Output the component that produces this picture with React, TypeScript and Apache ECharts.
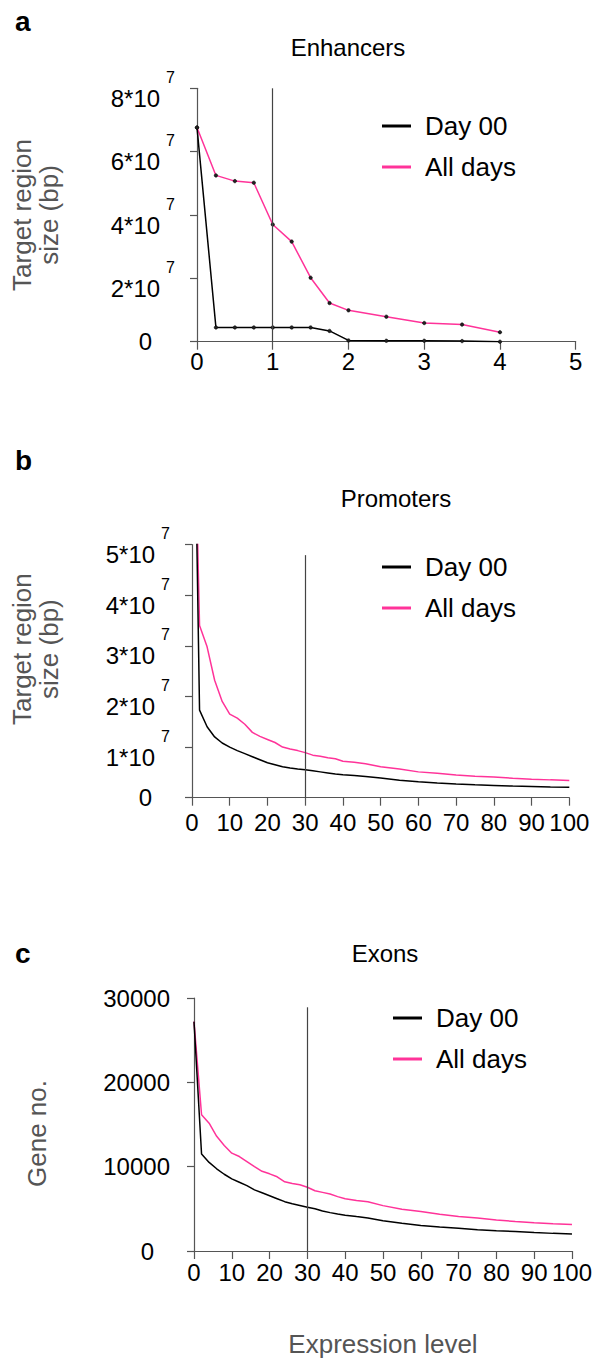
import React, { useEffect, useRef } from 'react';
import * as echarts from 'echarts';

const FONT = '"Liberation Sans", Arial, Helvetica, sans-serif';
const PINK = '#ff3399';
const BLACK = '#000000';
const AXIS = '#555555';
const NAME = '#555555';

// Panel a: Enhancers
const enhX = [0, 0.25, 0.5, 0.75, 1, 1.25, 1.5, 1.75, 2, 2.5, 3, 3.5, 4];
const enhDay00 = [6.76e7, 0.45e7, 0.45e7, 0.45e7, 0.45e7, 0.45e7, 0.45e7, 0.34e7, 0.04e7, 0.03e7, 0.03e7, 0.02e7, 0];
const enhAllDays = [6.76e7, 5.25e7, 5.07e7, 5.02e7, 3.7e7, 3.16e7, 2.02e7, 1.22e7, 0.99e7, 0.79e7, 0.59e7, 0.54e7, 0.3e7];

// Panel b: Promoters (values in bp)
const promX = [0, 1, 2, 4, 6, 8, 10, 12, 14, 16, 18, 20, 22, 24, 26, 28, 30, 32, 34, 36, 38, 40, 43, 46, 50, 55, 60, 65, 70, 75, 80, 85, 90, 95, 100];
const promDay00 = [6.8e7, 6.4e7, 1.73e7, 1.4e7, 1.2e7, 1.08e7, 1.0e7, 0.93e7, 0.87e7, 0.81e7, 0.75e7, 0.69e7, 0.65e7, 0.61e7, 0.585e7, 0.565e7, 0.55e7, 0.53e7, 0.51e7, 0.49e7, 0.47e7, 0.455e7, 0.44e7, 0.42e7, 0.39e7, 0.345e7, 0.315e7, 0.29e7, 0.27e7, 0.255e7, 0.243e7, 0.23e7, 0.222e7, 0.212e7, 0.205e7];
const promAllDays = [6.8e7, 6.7e7, 3.4e7, 2.98e7, 2.32e7, 1.9e7, 1.65e7, 1.57e7, 1.45e7, 1.29e7, 1.21e7, 1.15e7, 1.09e7, 1.0e7, 0.96e7, 0.93e7, 0.89e7, 0.84e7, 0.82e7, 0.79e7, 0.77e7, 0.72e7, 0.7e7, 0.67e7, 0.61e7, 0.565e7, 0.51e7, 0.485e7, 0.45e7, 0.425e7, 0.408e7, 0.385e7, 0.365e7, 0.352e7, 0.342e7];

// Panel c: Exons (gene numbers)
const exonX = [0, 2, 4, 6, 8, 10, 12, 14, 16, 18, 20, 22, 24, 26, 28, 30, 32, 34, 36, 38, 40, 43, 46, 50, 55, 60, 65, 70, 75, 80, 85, 90, 95, 100];
const exonDay00 = [27200, 11500, 10500, 9750, 9100, 8550, 8150, 7750, 7250, 6900, 6550, 6200, 5850, 5600, 5400, 5200, 5000, 4750, 4550, 4380, 4250, 4080, 3920, 3600, 3300, 3030, 2850, 2690, 2530, 2410, 2300, 2180, 2090, 2020];
const exonAllDays = [27200, 16150, 15150, 13600, 12500, 11600, 11200, 10600, 10000, 9450, 9150, 8800, 8200, 8000, 7850, 7560, 7150, 6950, 6750, 6450, 6200, 6000, 5850, 5380, 4950, 4680, 4350, 4080, 3900, 3680, 3500, 3360, 3230, 3130];

// Thresholds (vertical lines)
const enhThreshold = 1;
const promThreshold = 30;
const exonThreshold = 30;

const seriesNames = ['Day 00', 'All days'];

const pairs = (xs: number[], ys: number[]) => xs.map((x, i) => [x, ys[i]]);

function sciRich(zeroPad: number) {
  return {
    b: { fontSize: 24, padding: [20, 0, 0, 0], color: '#000', fontFamily: FONT },
    s: { fontSize: 16, padding: [0, 0, 22, 6], color: '#000', fontFamily: FONT },
    z: { fontSize: 24, padding: [0, zeroPad, 0, 0], color: '#000', fontFamily: FONT },
  };
}
const sciFormatter = (v: number) => (v === 0 ? '{z|0}' : `{b|${Math.round(v / 1e7)}*10}{s|7}`);

const axisLine = { show: true, lineStyle: { color: AXIS, width: 1.2 } };

function xAxis(gridIndex: number, max: number, interval: number, margin: number, extra: any = {}) {
  return {
    type: 'value',
    gridIndex,
    min: 0,
    max,
    interval,
    axisLine,
    axisTick: { show: true, length: 8, inside: false, lineStyle: { color: AXIS, width: 1.2 } },
    splitLine: { show: false },
    axisLabel: { fontSize: 24, color: '#000', fontFamily: FONT, margin },
    ...extra,
  };
}

function legend(left: number, top: number) {
  return {
    orient: 'vertical',
    left,
    top,
    padding: 0,
    itemWidth: 29,
    itemHeight: 3,
    itemGap: 15,
    icon: 'rect',
    selectedMode: false,
    textStyle: { fontSize: 26, color: '#000', fontFamily: FONT, padding: [0, 0, 0, 9] },
    data: [
      { name: seriesNames[0], itemStyle: { color: BLACK, borderWidth: 0 } },
      { name: seriesNames[1], itemStyle: { color: PINK, borderWidth: 0 } },
    ],
  };
}

function vline(x: number, yTop: number) {
  return {
    silent: true,
    symbol: 'none',
    animation: false,
    label: { show: false },
    lineStyle: { color: '#444', width: 1.2, type: 'solid' },
    emphasis: { disabled: true },
    data: [[{ coord: [x, 0] }, { coord: [x, yTop] }]],
  };
}

function lineSeries(name: string, color: string, idx: number, data: number[][], markers: boolean, extra: any = {}) {
  return {
    type: 'line',
    name,
    xAxisIndex: idx,
    yAxisIndex: idx,
    data,
    color,
    showSymbol: markers,
    symbol: 'circle',
    symbolSize: 3.5,
    itemStyle: markers ? { color: '#222', borderColor: '#000', borderWidth: 0.5 } : { color },
    lineStyle: { color, width: 1.5 },
    emphasis: { disabled: true },
    clip: true,
    z: name === seriesNames[1] ? 3 : 4,
    ...extra,
  };
}

const titleStyle = { fontSize: 24, fontWeight: 'normal', color: '#000', fontFamily: FONT };
const letterStyle = { fontSize: 28, fontWeight: 'bold', color: '#000', fontFamily: FONT };

const option: any = {
  animation: false,
  backgroundColor: '#ffffff',
  textStyle: { fontFamily: FONT },
  title: [
    { text: 'a', left: 10, top: 2, textStyle: letterStyle },
    { text: 'Enhancers', left: 343, top: 30, textAlign: 'center', textStyle: titleStyle },
    { text: 'b', left: 10, top: 441, textStyle: letterStyle },
    { text: 'Promoters', left: 391, top: 481, textAlign: 'center', textStyle: titleStyle },
    { text: 'c', left: 10, top: 934, textStyle: letterStyle },
    { text: 'Exons', left: 380, top: 936, textAlign: 'center', textStyle: titleStyle },
  ],
  legend: [legend(382, 113), legend(382, 554), legend(393, 1005)],
  grid: [
    { left: 195.5, top: 88.3, width: 380.2, height: 253.4 },
    { left: 190.5, top: 544.5, width: 378.8, height: 253.2 },
    { left: 194, top: 998, width: 379.3, height: 253 },
  ],
  xAxis: [
    xAxis(0, 5, 1, 8),
    xAxis(1, 100, 10, 13),
    xAxis(2, 100, 10, 9, {
      name: 'Expression level',
      nameLocation: 'middle',
      nameGap: 80,
      nameTextStyle: { fontSize: 26, color: NAME, fontFamily: FONT },
    }),
  ],
  yAxis: [
    {
      type: 'value',
      gridIndex: 0,
      min: 0,
      max: 8e7,
      interval: 2e7,
      axisLine,
      axisTick: { show: true, length: 7, lineStyle: { color: AXIS, width: 1.2 } },
      splitLine: { show: false },
      axisLabel: { formatter: sciFormatter, rich: sciRich(23), margin: 22 },
      name: 'Target region\nsize (bp)',
      nameLocation: 'middle',
      nameRotate: 90,
      nameGap: 135,
      nameTextStyle: { fontSize: 26, lineHeight: 27, color: NAME, fontFamily: FONT },
    },
    {
      type: 'value',
      gridIndex: 1,
      min: 0,
      max: 5e7,
      interval: 1e7,
      axisLine,
      axisTick: { show: true, length: 7, lineStyle: { color: AXIS, width: 1.2 } },
      splitLine: { show: false },
      axisLabel: { formatter: sciFormatter, rich: sciRich(18), margin: 22 },
      name: 'Target region\nsize (bp)',
      nameLocation: 'middle',
      nameRotate: 90,
      nameGap: 130,
      nameTextStyle: { fontSize: 26, lineHeight: 27, color: NAME, fontFamily: FONT, padding: [0, 0, 0, 44] },
    },
    {
      type: 'value',
      gridIndex: 2,
      min: 0,
      max: 30000,
      interval: 10000,
      axisLine,
      axisTick: { show: true, length: 7, lineStyle: { color: AXIS, width: 1.2 } },
      splitLine: { show: false },
      axisLabel: {
        formatter: (v: number) => (v === 0 ? '{z|0}' : String(v)),
        fontSize: 24,
        color: '#000',
        fontFamily: FONT,
        margin: 24,
        rich: { z: { fontSize: 24, padding: [0, 16, 0, 0], color: '#000', fontFamily: FONT } },
      },
      name: 'Gene no.',
      nameLocation: 'middle',
      nameRotate: 90,
      nameGap: 144,
      nameTextStyle: { fontSize: 26, color: NAME, fontFamily: FONT, padding: [0, 18, 0, 0] },
    },
  ],
  series: [
    lineSeries(seriesNames[0], BLACK, 0, pairs(enhX, enhDay00), true, { markLine: vline(enhThreshold, 8e7) }),
    lineSeries(seriesNames[1], PINK, 0, pairs(enhX, enhAllDays), true),
    lineSeries(seriesNames[0], BLACK, 1, pairs(promX, promDay00), false, { markLine: vline(promThreshold, 4.79e7) }),
    lineSeries(seriesNames[1], PINK, 1, pairs(promX, promAllDays), false),
    lineSeries(seriesNames[0], BLACK, 2, pairs(exonX, exonDay00), false, { markLine: vline(exonThreshold, 28900) }),
    lineSeries(seriesNames[1], PINK, 2, pairs(exonX, exonAllDays), false),
  ],
};

export default function App() {
  const ref = useRef<HTMLDivElement>(null);
  useEffect(() => {
    const chart = echarts.init(ref.current as HTMLDivElement, null, { renderer: 'svg' });
    chart.setOption(option);
    return () => chart.dispose();
  }, []);
  return (
    <div
      ref={ref}
      style={{ position: 'absolute', left: 0, top: 0, width: 595, height: 1358, background: '#fff' }}
    />
  );
}
